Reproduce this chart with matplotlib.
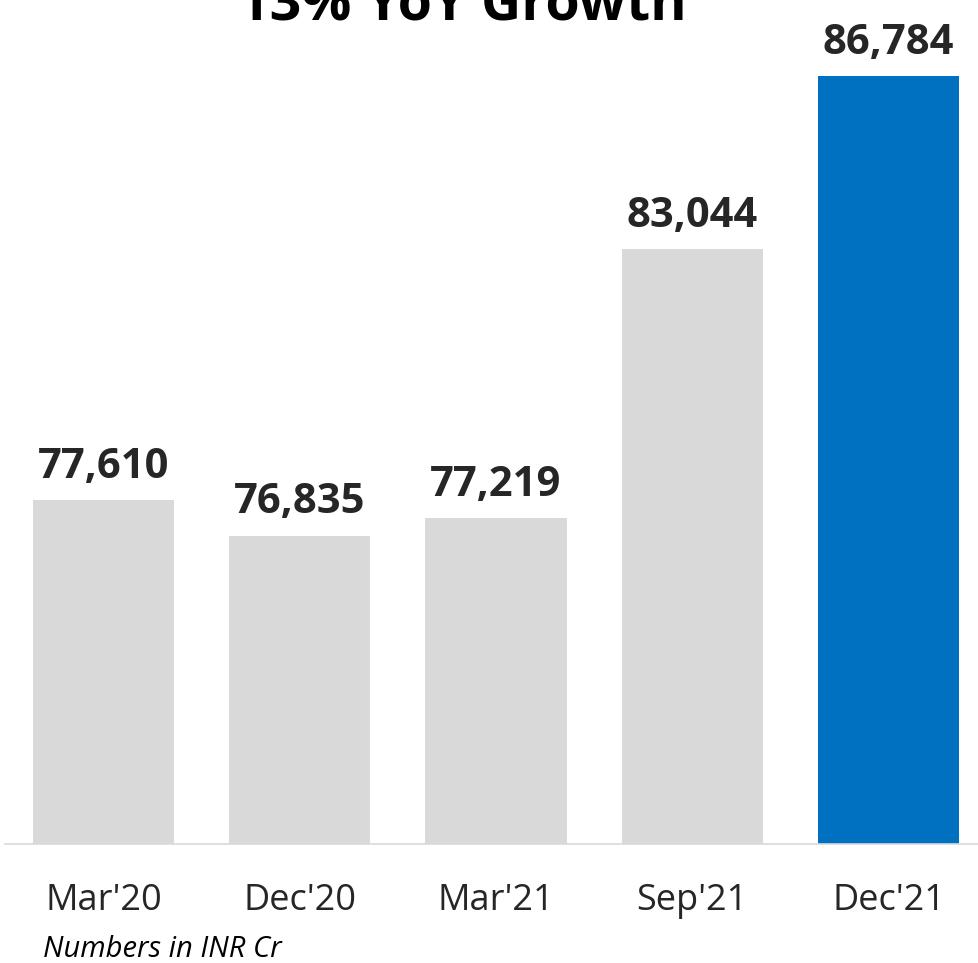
import matplotlib
matplotlib.use("Agg")
from matplotlib import pyplot as plt

periods = ["Mar'20", "Dec'20", "Mar'21", "Sep'21", "Dec'21"]
values = [77610, 76835, 77219, 83044, 86784]
value_labels = ["77,610", "76,835", "77,219", "83,044", "86,784"]

plt.rcParams["font.family"] = ["Open Sans", "DejaVu Sans"]

fig = plt.figure(figsize=(9.79, 9.63), dpi=100)
# axes deliberately runs a touch past the right edge, like the cropped original
ax = fig.add_axes([5.4 / 979, 119 / 963, 981.25 / 979, 844 / 963])

colors = ["#D9D9D9"] * 4 + ["#0070C0"]
x = list(range(len(periods)))
bars = ax.bar(x, values, width=0.72, color=colors, zorder=2)

ax.set_xlim(-0.5, 4.5)
ax.set_ylim(70155, 88440)

for b, lab in zip(bars, value_labels):
    ax.annotate(lab, (b.get_x() + b.get_width() / 2, b.get_height()),
                xytext=(0, 16), textcoords="offset points",
                ha="center", va="baseline", fontsize=30,
                fontweight="bold", color="#262626")

# turn off spines, keep only a light base line
for s in ["left", "right", "top"]:
    ax.spines[s].set_visible(False)
ax.spines["bottom"].set_color("#D9D9D9")
ax.spines["bottom"].set_linewidth(1.2)
ax.set_yticks([])
ax.set_xticks(x)
ax.set_xticklabels(periods, fontsize=26, color="#262626")
ax.tick_params(axis="x", length=0, pad=28)

fig.text(462 / 979, 1 - 19 / 963, "13% YoY Growth", ha="center", va="baseline",
         fontsize=40, fontweight="bold", color="black")
fig.text(43 / 979, 1 - 957 / 963, "Numbers in INR Cr", ha="left", va="baseline",
         fontsize=21, style="italic", color="black")

plt.savefig("out.png", dpi=100)
